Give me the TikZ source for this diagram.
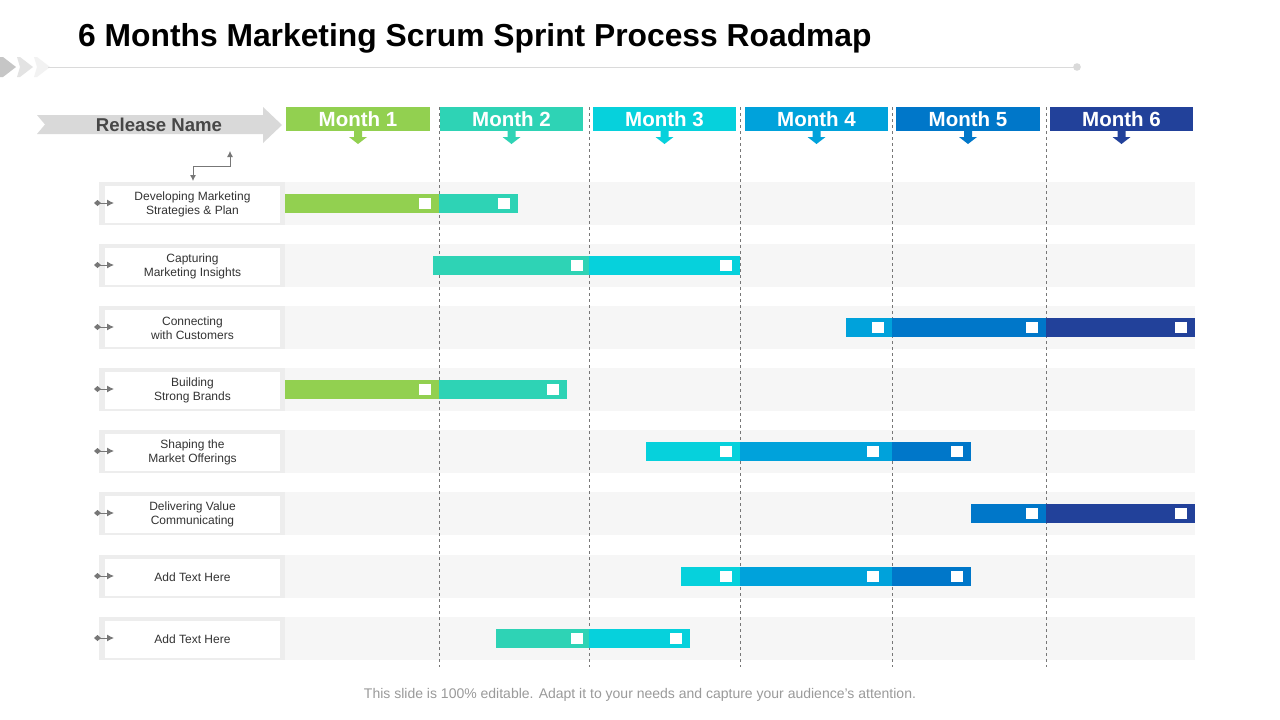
\documentclass[tikz,border=0pt]{standalone}
\usepackage{fontspec}
\setmainfont{Liberation Sans}
\usetikzlibrary{arrows.meta}
\definecolor{mA}{HTML}{92D050}
\definecolor{mB}{HTML}{2ED3B5}
\definecolor{mC}{HTML}{06D1DC}
\definecolor{mD}{HTML}{00A2DB}
\definecolor{mE}{HTML}{0077C9}
\definecolor{mF}{HTML}{22419A}
\definecolor{bandgray}{HTML}{F6F6F6}
\definecolor{framegray}{HTML}{EDEDED}
\definecolor{relgray}{HTML}{D9D9D9}
\definecolor{txtgray}{HTML}{333333}
\definecolor{footgray}{HTML}{9A9A9A}
\definecolor{arrgray}{HTML}{777777}
\definecolor{linegray}{HTML}{DADADA}
\tikzset{
  monthbox/.style={inner sep=0pt, minimum height=24pt, text=white, font=\fontsize{20.5}{22}\selectfont\bfseries},
  labelbox/.style={fill=white, inner sep=0pt, minimum width=175pt, minimum height=37pt, align=center, text=txtgray, font=\fontsize{12}{14}\selectfont},
  vline/.style={draw=arrgray, line width=0.8pt, dash pattern=on 3pt off 3pt},
  rowarrow/.style={draw=arrgray, line width=1pt, {Diamond[length=7pt,width=6pt]}-{Latex[length=7pt,width=7pt]}},
  sq/.style={fill=white}
}
\newcommand{\seg}[4]{\fill[#4] (#2,#1-9.5) rectangle (#3,#1+9.5);}
\newcommand{\wsq}[2]{\fill[white] (#2-6,#1-5.5) rectangle (#2+6,#1+5.5);}
\begin{document}
\begin{tikzpicture}[x=1pt,y=-1pt]
\useasboundingbox (0,0) rectangle (1280,720);
\fill[white] (0,0) rectangle (1280,720);
% title
\node[anchor=base west, inner sep=0pt, font=\fontsize{31.8}{34}\selectfont\bfseries] (title) at (78,46) {6 Months Marketing Scrum Sprint Process Roadmap};
% chevrons and top line
\fill[gray!45] (0,57) -- (3,57) -- (16,67) -- (3,77) -- (0,77) -- cycle;
\fill[gray!22] (17,57) -- (20,57) -- (33,67) -- (20,77) -- (17,77) -- (20,67) -- cycle;
\fill[gray!10] (34,57) -- (37,57) -- (50,67) -- (37,77) -- (34,77) -- (37,67) -- cycle;
\coordinate (tl0) at (48,67);
\coordinate (tl1) at (1077,67);
\draw[linegray, line width=1pt] (tl0) -- (tl1);
\fill[linegray] (tl1) circle (3.8);
% release name arrow
\fill[relgray] (37,115) -- (263,115) -- (263,107) -- (282,125) -- (263,143) -- (263,134) -- (37,134) -- (45,124.5) -- cycle;
\node[text=txtgray!90, font=\fontsize{18.6}{20}\selectfont\bfseries] (rel) at (159,125) {Release Name};
\coordinate (ra) at (193,181);
\coordinate (rb) at (230,151);
\draw[arrgray, line width=0.8pt, {Latex[length=6pt,width=6pt]}-{Latex[length=6pt,width=6pt]}] (ra) -- (193,166) -- (230,166) -- (rb);
% rows: bands and labels
\foreach \i/\y/\t in {1/203/{Developing Marketing\\Strategies \& Plan},
                      2/265/{Capturing\\Marketing Insights},
                      3/327/{Connecting\\with Customers},
                      4/389/{Building\\Strong Brands},
                      5/451/{Shaping the\\Market Offerings},
                      6/513/{Delivering Value\\Communicating},
                      7/576/{Add Text Here},
                      8/638/{Add Text Here}}{
  \fill[bandgray] (285,\y-21.5) rectangle (1195,\y+21.5);
  \fill[framegray] (99,\y-21.5) rectangle (285,\y+21.5);
  \node[labelbox] (lab\i) at (192.5,\y+1.5) {\t};
  \coordinate (d\i) at (94,\y);
  \coordinate (e\i) at (114,\y);
  \draw[rowarrow] (d\i) -- (e\i);
}
% month headers and dashed separators
\foreach \i/\l/\r/\c in {1/286/430/mA, 2/440/583/mB, 3/593/736/mC, 4/745/888/mD, 5/896/1040/mE, 6/1050/1193/mF}{
  \node[monthbox, fill=\c, minimum width={(\r-\l)*1pt}] (m\i) at ({(\l+\r)/2},119) {Month \i};
  \fill[\c] ({(\l+\r)/2-4},131) -- ({(\l+\r)/2+4},131) -- ({(\l+\r)/2+4},137) -- ({(\l+\r)/2+9},137) -- ({(\l+\r)/2},144) -- ({(\l+\r)/2-9},137) -- ({(\l+\r)/2-4},137) -- cycle;
}
\foreach \x in {439,589,740,892,1046}{
  \draw[vline] (\x,107) -- (\x,667);
}
% bars
% row 1
\seg{203}{285}{439}{mA}\seg{203}{439}{518}{mB}\wsq{203}{425}\wsq{203}{504}
% row 2
\seg{265}{433}{589}{mB}\seg{265}{589}{740}{mC}\wsq{265}{577}\wsq{265}{726}
% row 3
\seg{327}{846}{892}{mD}\seg{327}{892}{1046}{mE}\seg{327}{1046}{1195}{mF}\wsq{327}{878}\wsq{327}{1032}\wsq{327}{1181}
% row 4
\seg{389}{285}{439}{mA}\seg{389}{439}{567}{mB}\wsq{389}{425}\wsq{389}{553}
% row 5
\seg{451}{646}{740}{mC}\seg{451}{740}{892}{mD}\seg{451}{892}{971}{mE}\wsq{451}{726}\wsq{451}{873}\wsq{451}{957}
% row 6
\seg{513}{971}{1046}{mE}\seg{513}{1046}{1195}{mF}\wsq{513}{1032}\wsq{513}{1181}
% row 7
\seg{576}{681}{740}{mC}\seg{576}{740}{892}{mD}\seg{576}{892}{971}{mE}\wsq{576}{726}\wsq{576}{873}\wsq{576}{957}
% row 8
\seg{638}{496}{589}{mB}\seg{638}{589}{690}{mC}\wsq{638}{577}\wsq{638}{676}
% footer
\node[text=footgray, font=\fontsize{14}{16}\selectfont] (foot) at (640,695) {This slide is 100\% editable. Adapt it to your needs and capture your audience’s attention.};
\end{tikzpicture}
\end{document}
